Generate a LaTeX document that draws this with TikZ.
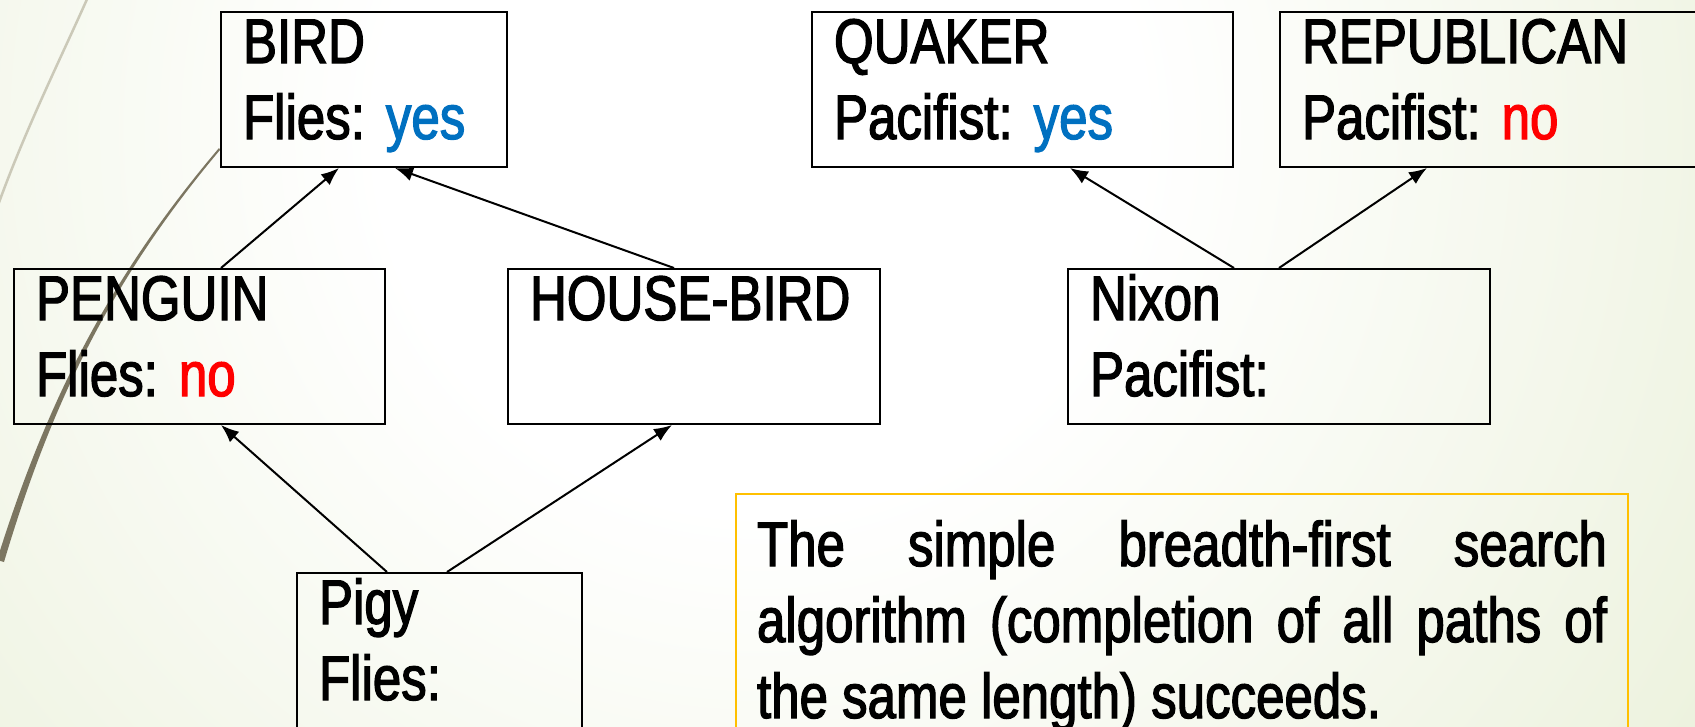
\documentclass[tikz,border=0pt]{standalone}
\usepackage{fontspec}
\setmainfont{Liberation Sans}[FakeStretch=0.81, FakeBold=2]
\usetikzlibrary{arrows.meta}
\frenchspacing
\definecolor{yescol}{HTML}{0070C0}
\definecolor{nocol}{HTML}{FF0000}
\definecolor{notecol}{HTML}{FFC000}
\definecolor{bggreen}{HTML}{DDE7C2}
\definecolor{arccol}{HTML}{7C7661}
\definecolor{arclight}{HTML}{CBC9B8}
\pgfdeclareradialshading{slidebg}{\pgfpoint{0bp}{0bp}}{color(0bp)=(white); color(5bp)=(white); color(23bp)=(bggreen); color(50bp)=(bggreen)}
\tikzset{box/.style = {draw, line width=2pt, anchor=north west, inner xsep=22pt, inner ysep=0pt, text width=#1, align=left, text height=51pt, text depth=104pt}}
\tikzset{note/.style = {draw=notecol, line width=2pt, anchor=north west, inner xsep=21pt, inner ysep=0pt, text width=850pt, align=justify, text height=72pt, text depth=260pt}}
\tikzset{edge/.style = {-{Latex[length=18pt,width=14pt]}, line width=2pt}}

\begin{document}
\begin{tikzpicture}[x=1pt, y=-1pt, font=\fontsize{63}{76}\selectfont]
      \useasboundingbox (0,0) rectangle (1695,726);
      \begin{scope}
        \clip (0,0) rectangle (1695,726);
        \shade[shading=slidebg] (760,130) circle (1900);
      \end{scope}
      \draw[arclight, line width=2.5pt] (88,-3) .. controls (60,60) and (25,130) .. (-3,208);
      \fill[arccol] (219,148) .. controls (100,288) and (42,417) .. (-3,560) -- (4,562) .. controls (47,418) and (103,289) .. (220,150) -- cycle;

      \node[box=242pt] (bird) at (220,11) {BIRD\\Flies: \textcolor{yescol}{yes}};
      \node[box=327pt] (penguin) at (13,268) {PENGUIN\\Flies: \textcolor{nocol}{no}};
      \node[box=328pt] (house) at (507,268) {HOUSE-BIRD};
      \node[box=241pt] (pigy) at (296,572) {Pigy\\Flies:};
      \node[box=377pt] (quaker) at (811,11) {QUAKER\\Pacifist: \textcolor{yescol}{yes}};
      \node[box=384pt] (republican) at (1279,11) {REPUBLICAN\\Pacifist: \textcolor{nocol}{no}};
      \node[box=378pt] (nixon) at (1067,268) {Nixon\\Pacifist:};
      \node[note] (remark) at (735,493) {The simple breadth-first search\linebreak algorithm (completion of all paths of\linebreak the same length) succeeds.};

      \draw[edge] ([xshift=208pt]penguin.north west) -- ([xshift=119pt]bird.south west);
      \draw[edge] ([xshift=167pt]house.north west) -- ([xshift=175pt]bird.south west);
      \draw[edge] ([xshift=91pt]pigy.north west) -- ([xshift=208pt]penguin.south west);
      \draw[edge] ([xshift=151pt]pigy.north west) -- ([xshift=165pt]house.south west);
      \draw[edge] ([xshift=167pt]nixon.north west) -- ([xshift=259pt]quaker.south west);
      \draw[edge] ([xshift=212pt]nixon.north west) -- ([xshift=148pt]republican.south west);
    \end{tikzpicture}
\end{document}
